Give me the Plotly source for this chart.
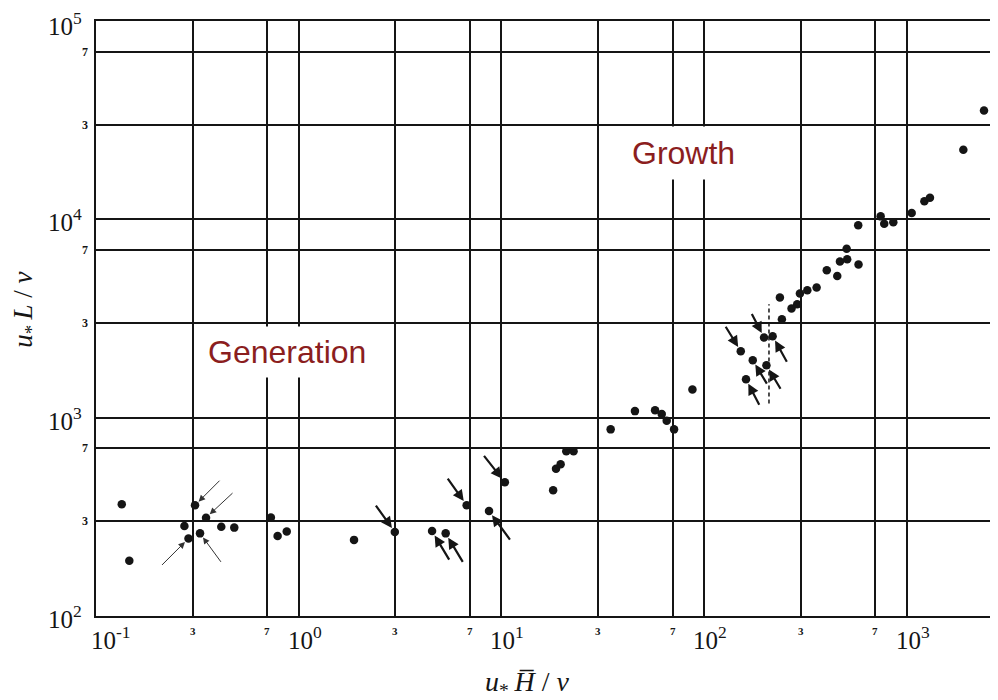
import math
import plotly.graph_objects as go

# ---------------- data ----------------
x_vals = [0.134, 0.146, 0.308, 0.349, 0.273, 0.286, 0.326, 0.415, 0.481, 0.729,
          0.787, 0.873, 1.875, 2.98, 4.55, 5.31, 6.74, 8.69, 10.4, 18.0,
          18.6, 19.6, 20.9, 22.7, 34.6, 45.6, 57.3, 61.8, 65.4, 71.1,
          87.6, 151.7, 173.8, 161.0, 197.6, 217.9, 203.0, 236.6, 242.0, 270.0,
          288.0, 297.0, 323.0, 359.0, 403.0, 454.0, 468.0, 508.0, 505.0, 578.0,
          576.0, 743.0, 774.0, 858.0, 1057.0, 1221.0, 1301.0, 1901.0, 2404.0, 2818.0]
y_vals = [366, 190, 362, 313, 284, 246, 261, 282, 279, 314,
          253, 267, 242, 265, 268, 261, 362, 338, 472, 431,
          552, 583, 678, 678, 873, 1079, 1091, 1042, 964, 873,
          1387, 2163, 1950, 1563, 2535, 2575, 1837, 4040, 3134, 3549,
          3733, 4230, 4385, 4530, 5535, 5173, 6135, 6285, 7113, 5916,
          9330, 10350, 9510, 9680, 10770, 12330, 12860, 22420, 35400, 27540]

# arrows: (point index, tail dx px, tail dy px, thin?)
arrow_specs = [(2, 26, -26, True), (3, 28, -26, True), (5, -28, 28, True), (6, 22, 30, True),
               (13, -20, -28, False), (14, 18, 30, False), (15, 18, 30, False),
               (16, -20, -28, False), (17, 22, 30, False), (18, -22, -28, False),
               (31, -16, -26, False), (32, 15, 25, False), (33, 14, 27, False),
               (34, -13, -25, False), (35, 15, 27, False), (36, 15, 25, False)]

dashed_x = [209, 209]
dashed_y = [1180, 3730]

grid_vals_x = [0.1, 0.3, 0.7, 1, 3, 7, 10, 30, 70, 100, 300, 700, 1000, 3000]
grid_vals_y = [100, 300, 700, 1000, 3000, 7000, 10000, 30000, 70000, 100000]

x_major = [0.1, 1, 10, 100, 1000]
x_major_text = ["10<sup>-1</sup>", "10<sup>0</sup>", "10<sup>1</sup>", "10<sup>2</sup>", "10<sup>3</sup>"]
x_minor = [0.3, 0.7, 3, 7, 30, 70, 300, 700]
x_minor_text = ["3", "7", "3", "7", "3", "7", "3", "7"]
y_major = [100, 1000, 10000, 100000]
y_major_text = ["10<sup>2</sup>", "10<sup>3</sup>", "10<sup>4</sup>", "10<sup>5</sup>"]
y_minor = [300, 700, 3000, 7000, 30000, 70000]
y_minor_text = ["3", "7", "3", "7", "3", "7"]

# ---------------- figure ----------------
INK = "#151515"
SERIF = "Liberation Serif, DejaVu Serif, serif"
SANS = "Liberation Sans, Arial, sans-serif"
lg = math.log10

fig = go.Figure()
fig.add_trace(go.Scatter(x=dashed_x, y=dashed_y, mode="lines",
                         line=dict(color=INK, width=1.5, dash="4px,3px"),
                         hoverinfo="skip", showlegend=False))
fig.add_trace(go.Scatter(x=x_vals, y=y_vals, mode="markers",
                         marker=dict(color=INK, size=8.5, line=dict(width=0)),
                         showlegend=False))

annotations = []
for idx, dx, dy, thin in arrow_specs:
    annotations.append(dict(x=lg(x_vals[idx]), y=lg(y_vals[idx]), xref="x", yref="y", text="",
                            showarrow=True, ax=dx, ay=dy, axref="pixel", ayref="pixel",
                            arrowhead=2, arrowsize=1.3 if thin else 1.0,
                            arrowwidth=1 if thin else 2.2,
                            arrowcolor="#333" if thin else INK, standoff=5))

for v, t in zip(x_major, x_major_text):
    annotations.append(dict(x=lg(v), y=0, xref="x", yref="paper", text=t, showarrow=False,
                            xanchor="center", yanchor="middle",
                            xshift=15 if v < 1 else 6, yshift=-22,
                            font=dict(family=SERIF, size=25, color=INK)))
for v, t in zip(x_minor, x_minor_text):
    annotations.append(dict(x=lg(v), y=0, xref="x", yref="paper", text="<b>" + t + "</b>",
                            showarrow=False, xanchor="center", yanchor="middle", yshift=-15,
                            font=dict(family=SERIF, size=11, color=INK)))
for v, t in zip(y_major, y_major_text):
    annotations.append(dict(x=0, y=lg(v), xref="paper", yref="y", text=t, showarrow=False,
                            xanchor="right", yanchor="middle", xshift=-12,
                            yshift=-3 if v == 100000 else -1,
                            font=dict(family=SERIF, size=25, color=INK)))
for v, t in zip(y_minor, y_minor_text):
    annotations.append(dict(x=0, y=lg(v), xref="paper", yref="y", text="<b>" + t + "</b>",
                            showarrow=False, xanchor="right", yanchor="middle", xshift=-6,
                            font=dict(family=SERIF, size=12, color=INK)))

# region labels
annotations.append(dict(x=0.212, y=0.444, xref="paper", yref="paper", text="Generation",
                        xanchor="center", yanchor="middle",
                        showarrow=False, bgcolor="white", borderpad=7,
                        font=dict(family=SANS, size=32, color="#8B1E1E")))
annotations.append(dict(x=0.651, y=0.778, xref="paper", yref="paper", text="Growth",
                        xanchor="center", yanchor="middle",
                        showarrow=False, bgcolor="white", borderpad=8,
                        font=dict(family=SANS, size=32, color="#8B1E1E")))

# axis titles
annotations.append(dict(x=0.478, y=-0.114, xref="paper", yref="paper",
                        text="<i>u</i><sub>*</sub>\u2009<i>H\u0305</i> / <i>\u03bd</i>",
                        showarrow=False, xanchor="center", yanchor="middle",
                        font=dict(family=SERIF, size=28, color=INK)))
annotations.append(dict(x=-0.078, y=0.514, xref="paper", yref="paper",
                        text="<i>u</i><sub>*</sub>\u2009<i>L</i> / <i>\u03bd</i>",
                        showarrow=False, textangle=-90, xanchor="center", yanchor="middle",
                        font=dict(family=SERIF, size=27, color=INK)))

# page body has an 8px default margin; size the figure so the plot area lands at 96..998 x 21..616
fig.update_layout(
    width=990, height=692,
    margin=dict(l=88, r=0, t=13, b=84),
    paper_bgcolor="white", plot_bgcolor="white",
    annotations=annotations,
    xaxis=dict(type="log", range=[-1, 3.45], tickvals=grid_vals_x, showticklabels=False,
               ticks="", showgrid=True, gridcolor=INK, gridwidth=2, zeroline=False,
               showline=True, linecolor=INK, linewidth=2, mirror=True),
    yaxis=dict(type="log", range=[2, 5], tickvals=grid_vals_y, showticklabels=False,
               ticks="", showgrid=True, gridcolor=INK, gridwidth=2, zeroline=False,
               showline=True, linecolor=INK, linewidth=2),
)

fig.write_html("out.html")
